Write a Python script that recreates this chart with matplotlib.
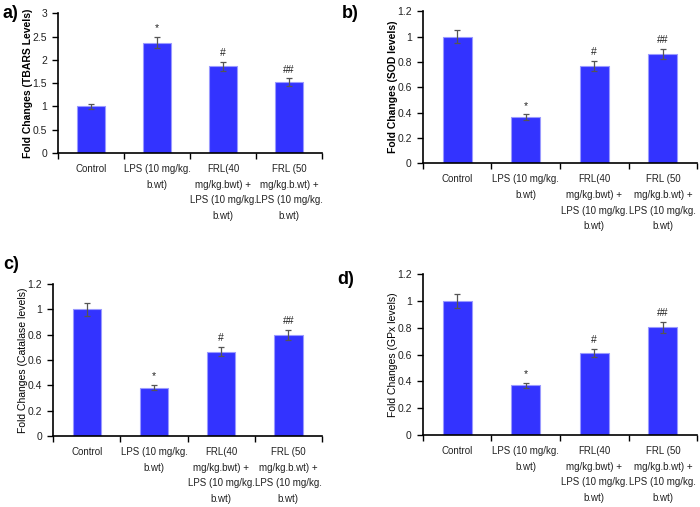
import matplotlib
matplotlib.use("Agg")
import matplotlib.pyplot as plt
import numpy as np

plt.rcParams['font.family'] = ['Liberation Sans', 'DejaVu Sans']

GROUPS = ["Control", "LPS (10 mg/kg.\nb.wt)",
          "FRL(40\nmg/kg.bwt) +\nLPS (10 mg/kg.\nb.wt)",
          "FRL (50\nmg/kg.b.wt) +\nLPS (10 mg/kg.\nb.wt)"]
MARKS = ["", "*", "#", "##"]

tbars = [1.0, 2.37, 1.86, 1.52]
tbars_err = [0.05, 0.12, 0.10, 0.08]
sod = [1.0, 0.365, 0.765, 0.865]
sod_err = [0.05, 0.02, 0.04, 0.04]
catalase = [1.0, 0.38, 0.665, 0.795]
catalase_err = [0.05, 0.02, 0.035, 0.04]
gpx = [1.0, 0.37, 0.61, 0.805]
gpx_err = [0.05, 0.02, 0.03, 0.04]

PANELS = [
    ("a)", tbars, tbars_err, "Fold Changes (TBARS Levels)", True, 3, 0.5),
    ("b)", sod, sod_err, "Fold Changes (SOD levels)", True, 1.2, 0.2),
    ("c)", catalase, catalase_err, "Fold Changes (Catalase levels)", False, 1.2, 0.2),
    ("d)", gpx, gpx_err, "Fold Changes (GPx levels)", False, 1.2, 0.2),
]

# axes rectangles in figure fraction
RECTS = [
    [0.083, 0.698, 0.377, 0.276],
    [0.604, 0.678, 0.392, 0.300],
    [0.076, 0.140, 0.384, 0.300],
    [0.604, 0.142, 0.392, 0.317],
]
LABEL_X = [-0.097, -0.092, -0.092, -0.092]
TAG_POS = [(0.004, 0.99), (0.488, 0.99), (0.004, 0.495), (0.482, 0.465)]

fig = plt.figure(figsize=(7, 5.07), dpi=100)

for (tag, vals, errs, ylab, bold, ymax, step), rect, lx, tpos in zip(PANELS, RECTS, LABEL_X, TAG_POS):
    ax = fig.add_axes(rect)
    x = np.arange(len(GROUPS))
    ax.bar(x, vals, width=0.42, color="#3333ff", edgecolor="#9a9aff", linewidth=0.8,
           yerr=errs, error_kw=dict(ecolor="#555555", elinewidth=0.9, capsize=2.5, capthick=0.9))
    for xi, v, e, m in zip(x, vals, errs, MARKS):
        if m:
            ax.text(xi, v + e + ymax * 0.025, m, ha="center", va="bottom", fontsize=7.5, color="#222222")
    ax.set_xlim(-0.5, len(GROUPS) - 0.5)
    ax.set_ylim(0, ymax)
    ticks = np.arange(0, ymax + step / 2, step)
    ax.set_yticks(ticks)
    ax.set_yticklabels(["{:g}".format(round(t, 2)) for t in ticks], fontsize=7.5, color="#222222")
    ax.set_xticks(np.arange(len(GROUPS) + 1) - 0.5)
    ax.set_xticklabels([])
    ax.set_xticks(x, minor=True)
    ax.set_xticklabels(GROUPS, minor=True, fontsize=7, color="#222222", linespacing=1.7, va="top")
    ax.tick_params(axis="x", which="minor", length=0, pad=8)
    ax.tick_params(axis="x", which="major", length=4, direction="out", width=1)
    ax.tick_params(axis="y", length=4, direction="out", width=1, pad=4)
    for s in ("top", "right"):
        ax.spines[s].set_visible(False)
    ax.spines["left"].set_linewidth(1.2)
    ax.spines["bottom"].set_linewidth(1.2)
    ax.set_ylabel(ylab, fontsize=7.5, fontweight="bold" if bold else "normal")
    ax.yaxis.set_label_coords(lx, 0.5)
    fig.text(tpos[0], tpos[1], tag, fontsize=13, fontweight="bold", va="top", ha="left")

fig.savefig("out.png", dpi=100)
